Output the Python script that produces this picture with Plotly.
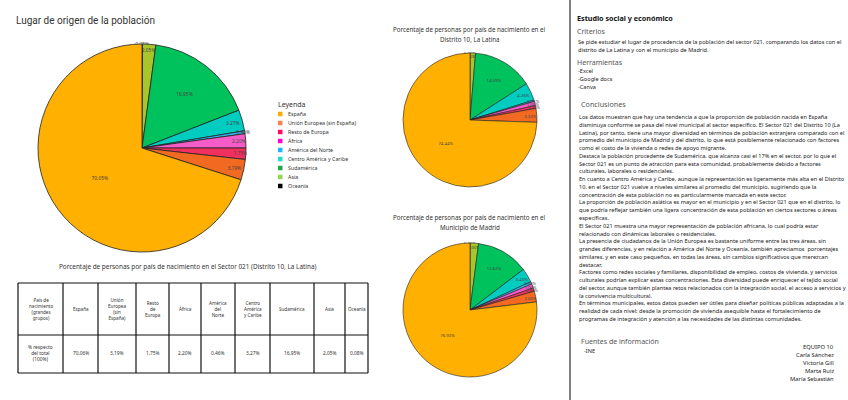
import plotly.graph_objects as go

# ---------------- data ----------------
categories = ["España", "Unión Europea (sin España)", "Resto de Europa", "África",
              "América del Norte", "Centro América y Caribe", "Sudamérica", "Asia", "Oceanía"]
sector_values = [70.06, 3.19, 1.75, 2.20, 0.46, 3.27, 16.95, 2.05, 0.08]
distrito_values = [74.44, 3.33, 0.70, 1.00, 0.35, 4.26, 14.59, 1.28, 0.05]
madrid_values = [76.93, 2.60, 0.80, 1.00, 0.60, 3.40, 12.62, 2.00, 0.05]

table_header = ["País de<br>nacimiento<br>(grandes<br>grupos)", "España", "Unión<br>Europea<br>(sin<br>España)",
                "Resto<br>de<br>Europa", "África", "América<br>del<br>Norte", "Centro<br>América<br>y Caribe",
                "Sudamérica", "Asia", "Oceanía"]
table_row = ["% respecto<br>del total<br>(100%)", "70,06%", "3,19%", "1,75%", "2,20%", "0,46%",
             "3,27%", "16,95%", "2,05%", "0,08%"]

title_main = "Lugar de origen de la población"
caption_sector = "Porcentaje de personas por país de nacimiento en el Sector 021 (Distrito 10, La Latina)"
title_distrito = ["Porcentaje de personas por país de nacimiento en el", "Distrito 10, La Latina"]
title_madrid = ["Porcentaje de personas por país de nacimiento en el", "Municipio de Madrid"]

criterios_lines = [
    "Se pide estudiar el lugar de procedencia de la población del sector 021, comparando los datos con el",
    "distrito de La Latina y con el municipio de Madrid.",
]
herramientas = ["-Excel", "-Google docs", "-Canva"]
conclusiones_lines = [
    "Los datos muestran que hay una tendencia a que la proporción de población nacida en España",
    "disminuya conforme se pasa del nivel municipal al sector específico. El Sector 021 del Distrito 10 (La",
    "Latina), por tanto, tiene una mayor diversidad en términos de población extranjera comparado con el",
    "promedio del municipio de Madrid y del distrito, lo que está posiblemente relacionado con factores",
    "como el costo de la vivienda o redes de apoyo migrante.",
    "Destaca la población procedente de Sudamérica, que alcanza casi el 17% en el sector, por lo que el",
    "Sector 021 es un punto de atracción para esta comunidad, probablemente debido a factores",
    "culturales, laborales o residenciales.",
    "En cuanto a Centro América y Caribe, aunque la representación es ligeramente más alta en el Distrito",
    "10, en el Sector 021 vuelve a niveles similares al promedio del municipio, sugiriendo que la",
    "concentración de esta población no es particularmente marcada en este sector.",
    "La proporción de población asiática es mayor en el municipio y en el Sector 021 que en el distrito, lo",
    "que podría reflejar también una ligera concentración de esta población en ciertos sectores o áreas",
    "específicas.",
    "El Sector 021 muestra una mayor representación de población africana, lo cual podría estar",
    "relacionado con dinámicas laborales o residenciales.",
    "La presencia de ciudadanos de la Unión Europea es bastante uniforme entre las tres áreas, sin",
    "grandes diferencias, y en relación a América del Norte y Oceanía, también apreciamos  porcentajes",
    "similares, y en este caso pequeños, en todas las áreas, sin cambios significativos que merezcan",
    "destacar.",
    "Factores como redes sociales y familiares, disponibilidad de empleo, costos de vivienda, y servicios",
    "culturales podrían explicar estas concentraciones. Esta diversidad puede enriquecer el tejido social",
    "del sector, aunque también plantea retos relacionados con la integración social, el acceso a servicios y",
    "la convivencia multicultural.",
    "En términos municipales, estos datos pueden ser útiles para diseñar políticas públicas adaptadas a la",
    "realidad de cada nivel: desde la promoción de vivienda asequible hasta el fortalecimiento de",
    "programas de integración y atención a las necesidades de las distintas comunidades.",
]
fuentes = ["-INE"]
equipo = ["EQUIPO 10", "Carla Sánchez", "Victoria Gill", "Marta Ruiz", "María Sebastián"]

# ---------------- style ----------------
W, H = 848, 400
pie_colors = ["#FFB000", "#F26A21", "#F2305F", "#F55CC8", "#33B4F0", "#00CCC0", "#00C25C", "#A8C62A", "#111111"]
legend_colors = ["#FFAA00", "#F5834F", "#FF0A60", "#FF00CC", "#1EB4FF", "#1EDCC8", "#1FA84A", "#8ED84A", "#000000"]
TXT = "#333333"
FONT = "Noto Sans"


def px(x):
    return x / W


def py(y):
    return 1 - y / H


def pie(values, x0, x1, y0, y1, fsize, lw):
    # slices run clockwise from 12 o'clock in reverse category order
    return go.Pie(
        labels=categories[::-1], values=values[::-1], sort=False, direction="clockwise", rotation=0,
        marker=dict(colors=pie_colors[::-1], line=dict(color="#222222", width=lw)),
        texttemplate="%{percent:.2%}", textposition="inside", insidetextorientation="horizontal",
        textfont=dict(size=fsize, color="#444444", family=FONT),
        domain=dict(x=[px(x0), px(x1)], y=[py(y1), py(y0)]),
        showlegend=False, hoverinfo="label+percent",
    )


fig = go.Figure()
fig.add_trace(pie(sector_values, 38, 246, 44, 252, 5.5, 0.8))
fig.add_trace(pie(distrito_values, 403, 537, 53, 187, 4.3, 0.6))
fig.add_trace(pie(madrid_values, 403, 537, 243, 377, 4.3, 0.6))

ann = []
shapes = []


def text(x, y, s, size, color=TXT, xanchor="left", family=FONT, yanchor="middle"):
    ann.append(dict(x=px(x), y=py(y), xref="paper", yref="paper", text=s, showarrow=False,
                    xanchor=xanchor, yanchor=yanchor, align=xanchor if xanchor != "center" else "center",
                    font=dict(size=size, color=color, family=family), borderpad=0))


def hline(x0, x1, y, w=1.2):
    shapes.append(dict(type="line", xref="paper", yref="paper", x0=px(x0), x1=px(x1), y0=py(y), y1=py(y),
                       line=dict(color="#111111", width=w)))


def vline(x, y0, y1, w=1.2, color="#111111"):
    shapes.append(dict(type="line", xref="paper", yref="paper", x0=px(x), x1=px(x), y0=py(y0), y1=py(y1),
                       line=dict(color=color, width=w)))


text(15, 20, title_main, 10, color="#333333", family="Roboto")
text(188, 266, caption_sector, 6.4, xanchor="center")
for i, s in enumerate(title_distrito):
    text(470, 30 + i * 10, s, 6.2, xanchor="center")
for i, s in enumerate(title_madrid):
    text(470, 217 + i * 10, s, 6.2, xanchor="center")

# legend
text(277, 105, "Leyenda", 7)
for i, (c, col) in enumerate(zip(categories, legend_colors)):
    yc = 114 + i * 9
    shapes.append(dict(type="rect", xref="paper", yref="paper", x0=px(278), x1=px(282.5),
                       y0=py(yc + 2.25), y1=py(yc - 2.25), fillcolor=col, line=dict(width=0)))
    text(286.5, yc, c, 5.3)

# table (cells built from table_header / table_row)
col_w = [45, 35, 38, 33, 32, 34, 35, 44, 31, 23]
tx0, ty0, ty1, ty2 = 18, 283, 335, 373
edges = [tx0]
for w in col_w:
    edges.append(edges[-1] + w)
for y in (ty0, ty1, ty2):
    hline(edges[0], edges[-1], y)
for x in edges:
    vline(x, ty0, ty2)
for j in range(len(col_w)):
    xc = (edges[j] + edges[j + 1]) / 2
    text(xc, (ty0 + ty1) / 2, table_header[j], 4.6, xanchor="center")
    text(xc, (ty1 + ty2) / 2 - 1, table_row[j], 4.8, xanchor="center")

# right panel
vline(570, 0, 400, w=1.5, color="#555555")
text(576, 18, "<b>Estudio social y económico</b>", 7.2, color="#111111")
text(576, 31, "Criterios", 7, color="#555555")
for i, s in enumerate(criterios_lines):
    text(577, 42 + i * 7.6, s, 5.6, color="#222222")
text(576, 62, "Herramientas", 7, color="#555555")
for i, s in enumerate(herramientas):
    text(577, 71 + i * 7.8, s, 5.6, color="#222222")
text(580, 104, "Conclusiones", 7.2, color="#555555")
for i, s in enumerate(conclusiones_lines):
    text(578, 117 + i * 7.77, s, 5.6, color="#222222")
text(580, 341, "Fuentes de información", 7, color="#555555")
for i, s in enumerate(fuentes):
    text(583, 351, s, 5.6, color="#222222")
for i, s in enumerate(equipo):
    text(835, 347 + i * 8, s, 5.8, color="#222222", xanchor="right")

fig.update_layout(
    width=W, height=H, margin=dict(l=0, r=0, t=0, b=0),
    paper_bgcolor="white", plot_bgcolor="white",
    annotations=ann, shapes=shapes, showlegend=False,
    uniformtext=dict(minsize=4.3, mode="show"),
    font=dict(family=FONT, color=TXT),
)

fig.write_html("out.html", config={"displayModeBar": False},
               post_script="document.body.style.margin='0px';")
